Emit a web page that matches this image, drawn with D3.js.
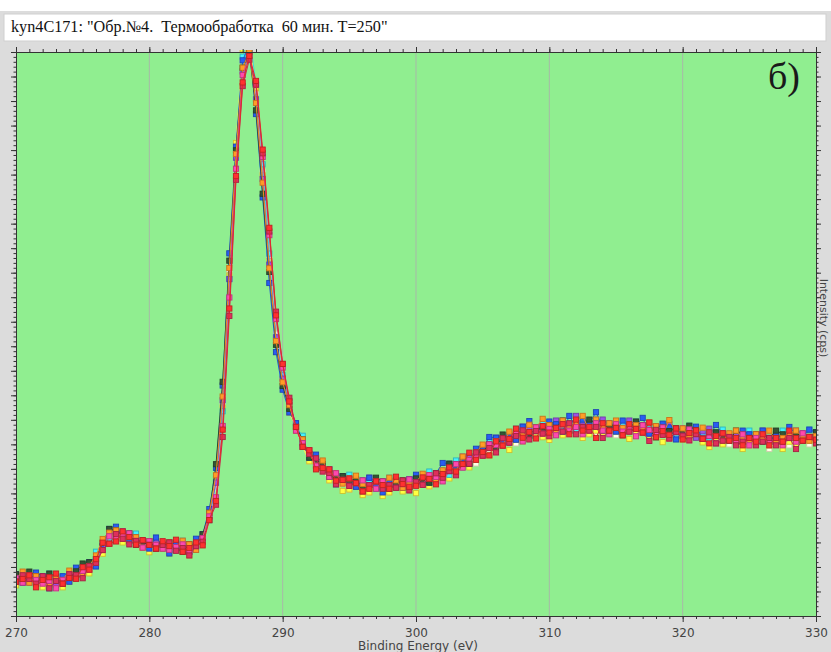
<!DOCTYPE html>
<html><head><meta charset="utf-8">
<script src="https://cdn.jsdelivr.net/npm/d3@7"></script>
<style>
html,body{margin:0;padding:0;background:#dcdcdc;overflow:hidden}
svg{display:block}
</style></head>
<body>
<script>
// Binding energy grid (eV), 0.5 eV step
const energies = d3.range(270, 330.001, 0.5);
// Mean spectrum (kcps)
const baseSpectrum = [
18.55,18.51,18.51,18.47,18.47,18.43,18.43,18.47,18.55,18.67,
18.84,19.04,19.32,19.69,20.10,20.34,20.30,20.22,20.06,19.94,
19.90,19.90,19.90,19.85,19.81,19.77,19.77,19.85,20.18,20.91,
22.14,25.20,30.29,35.39,39.06,39.84,38.37,35.27,31.93,28.66,
26.83,25.60,24.71,24.05,23.61,23.28,23.04,22.83,22.67,22.55,
22.46,22.42,22.38,22.34,22.34,22.34,22.34,22.38,22.38,22.42,
22.46,22.50,22.59,22.67,22.79,22.91,23.04,23.20,23.36,23.52,
23.69,23.85,23.97,24.10,24.22,24.34,24.42,24.50,24.54,24.59,
24.63,24.67,24.67,24.71,24.71,24.71,24.71,24.71,24.71,24.71,
24.67,24.67,24.67,24.63,24.63,24.59,24.59,24.54,24.54,24.50,
24.50,24.46,24.42,24.38,24.34,24.34,24.30,24.30,24.26,24.26,
24.26,24.26,24.26,24.26,24.26,24.26,24.26,24.26,24.30,24.30,
24.34];
// Per-scan deviations from the mean (units of 0.15 kcps), estimated from the scatter
const devUnit = 0.15;
const scanCream = [
0,-1,1,0,-1,0,-2,1,0,-1, 0,-1,1,0,-1,0,1,-1,0,1, -1,0,1,-1,0,1,0,-1,0,1,
1,3,5,6,4,3,0,-1,-2,-1, -1,-2,0,-1,-2,0,-1,-2,0,-1, -2,-1,0,-2,-1,0,-2,-1,0,-1,
-1,0,-2,-1,0,-1,-2,0,-1,-2, 0,-1,-2,0,-1,-2,-1,0,-2,-1, -3,0,-1,-2,0,-3,-1,-2,0,-1,
-2,-1,0,-2,-1,-3,0,-1,-2,-1, 0,-2,-1,0,-3,-1,0,-2,-1,0, -2,-1,0,-3,-1,0,-2,-1,0,-2, -1];
const scanYellow = [
-2,-1,0,-1,-2,0,-1,-2,-1,0, -1,-2,0,-1,1,0,-2,-1,0,-1, -2,0,-1,-2,0,-1,-2,0,-1,1,
3,2,4,6,7,5,1,-2,-3,-2, -1,-2,0,-1,-2,-1,0,-2,-1,-3, -2,-1,-3,-2,-1,-3,-2,0,-2,-1,
-3,-1,-2,0,-1,-2,-1,0,-2,-1, -1,-2,0,-1,-3,-1,-2,0,-1,-2, -3,-1,-2,0,-1,-3,-2,-1,-2,0,
-1,-2,-3,-1,0,-2,-1,-3,-2,-1, -2,0,-1,-2,-3,-1,-2,0,-1,-3, -2,-1,0,-2,-1,-3,-1,-2,0,-1, -2];
const scanCyan = [
0,1,0,-1,1,2,0,1,0,-1, 1,0,2,1,0,-1,1,0,2,1, 0,1,-1,0,1,2,0,-1,1,0,
2,1,3,4,5,6,2,1,-1,-2, 0,1,0,2,-1,1,0,1,-1,0, 2,1,0,1,-1,0,2,1,0,-1,
1,0,2,0,1,-1,2,0,1,0, 1,2,0,1,0,2,1,-1,0,2, 1,0,2,1,-1,0,1,2,0,1,
0,1,-1,2,0,1,0,2,1,-1, 0,2,1,0,-1,1,2,0,1,0, 2,1,0,-1,1,2,0,1,0,2, 1];
const scanPurple = [
1,0,-1,1,0,1,-1,0,1,0, 0,1,0,1,2,0,1,0,-1,0, 0,1,0,-1,1,0,1,-1,0,1,
2,4,3,2,1,2,-2,-3,-4,-2, -1,0,1,-1,0,1,0,1,-1,1, 0,1,0,2,1,-1,0,1,0,1,
1,0,1,-1,0,1,0,2,1,0, 1,0,2,1,-1,0,2,1,0,1, 0,2,1,0,3,1,0,1,2,0,
1,0,2,1,0,-1,1,0,2,1, 1,0,-1,1,2,0,1,0,1,-1, 0,1,2,0,1,-1,0,2,1,0, 1];
const scanBlue = [
1,-1,0,2,1,-2,0,1,-1,2, 0,1,-2,1,3,2,0,-1,1,0, -1,2,0,-2,1,0,-1,2,1,3,
6,8,10,5,4,3,-6,-8,-9,-6, -4,-2,1,0,-1,2,1,0,-2,1, 0,-1,1,2,0,-2,1,0,-1,1,
2,0,-1,1,3,2,0,1,-1,2, 1,3,2,0,1,-1,2,3,1,0, 2,1,-1,3,0,2,1,4,0,1,
-1,2,0,1,3,-1,0,2,1,-2, 0,1,2,-1,0,3,1,0,-1,2, 1,0,2,-1,1,0,3,1,0,2, 1];
const scanDark = [
1,0,2,1,0,2,1,-1,0,1, 2,1,0,2,3,1,0,1,-1,0, 1,-1,0,1,0,-1,1,0,1,2,
7,9,8,4,2,1,-5,-7,-6,-4, -3,-1,0,1,-1,0,1,-1,0,1, 0,1,-1,0,2,1,-1,0,1,-1,
1,0,-1,1,0,2,1,0,-1,1, 0,1,-1,2,0,1,0,-1,1,0, 1,0,2,-1,1,0,2,1,-1,0,
1,-1,0,2,1,0,-2,1,0,1, 0,2,1,-1,0,1,0,-1,2,1, 0,1,-1,0,2,1,0,1,-1,0, 1];
const scanOrange = [
0,2,-1,1,0,-1,1,0,2,0, -1,0,1,3,2,1,-1,0,1,-1, 1,0,-1,1,0,2,1,-1,0,2,
4,5,6,3,2,1,-3,-4,-5,-3, -2,0,-1,1,0,-1,2,0,1,-1, 1,2,0,-1,1,0,2,1,-1,0,
0,2,1,-1,1,0,-1,2,0,1, 2,0,1,-1,2,1,0,2,1,3, 1,-1,2,0,1,3,-1,2,0,1,
2,0,-1,1,0,2,1,-1,3,0, 1,-1,0,2,1,0,-1,1,2,0, -1,1,0,2,-1,0,1,2,0,-1, 0];
const scanMagenta = [
0,-1,1,0,-1,0,-2,0,1,-1, 0,-1,-1,0,1,-1,0,1,0,-1, 1,0,-1,-1,0,1,-1,0,0,1,
-2,-3,-2,-1,0,0,2,3,4,3, 2,1,-1,0,1,-1,0,-1,1,0, -1,0,1,0,-1,1,0,-1,0,1,
0,-1,1,0,-2,0,1,-1,0,0, -1,1,0,-1,0,1,-2,0,1,-1, 0,-2,1,-1,0,-2,0,1,-1,-2,
1,-1,0,-2,1,0,-1,1,-2,0, -1,1,0,-1,0,-2,1,0,-1,1, -2,0,1,-1,0,-2,0,-1,1,0, -1];
const scanCrimson = [
-1,1,0,-1,1,-2,0,-1,1,0, -2,0,-1,0,-1,0,-1,-2,0,1, 0,-1,0,1,-1,0,-2,0,-1,0,
-4,-6,-7,-4,-3,-1,2,4,5,5, 3,2,0,-1,0,1,-1,0,-2,0, -1,0,-2,0,1,-1,0,-1,1,-2,
0,-1,0,1,-1,0,-2,0,-1,1, -1,0,-2,1,-1,0,1,-2,0,-1, -2,0,-1,1,-2,0,-1,0,-3,-1,
0,-2,-1,0,-1,-3,0,-1,-2,0, -1,-2,0,-1,1,-2,-1,0,-2,-1, 0,-2,-1,0,-2,-1,0,-3,-1,0, -2];
const scanRed = [
-1,0,1,-2,0,1,2,-1,0,-1, 1,-1,0,2,-1,-2,1,0,-1,1, 0,-1,1,0,2,-1,0,1,-2,0,
-3,-4,-5,-3,-2,0,3,5,6,4, 3,1,0,-1,1,-2,0,1,-1,0, 1,0,-2,-1,1,0,-1,2,0,-1,
-1,1,0,-2,0,1,-1,0,2,-1, 0,-2,1,-1,0,2,-1,0,-2,1, -1,0,1,-2,2,-1,0,-3,1,-1,
0,-2,1,0,-1,2,-2,0,-1,1, -2,0,1,-1,-2,0,1,-1,0,-2, 0,-1,1,-2,0,-1,2,0,-1,0, -1];
const scanNames = ["cream","yellow","cyan","purple","blue","dark","orange","magenta","crimson","red"];
const scanDevs = [scanCream, scanYellow, scanCyan, scanPurple, scanBlue, scanDark, scanOrange, scanMagenta, scanCrimson, scanRed];
const scanColors = ["#f6f2cc","#f2e63a","#3ad6e0","#8a48c8","#2452d6","#2e4a2e","#f08a22","#e0409a","#c42a50","#e22a2a"];
const xTickLabels = [270,280,290,300,310,320,330];
const titleText = 'kyn4C171: "Обр.№4.  Термообработка  60 мин. T=250"';

const W = 831, H = 652;
const L = 16, R = 816, T = 52, B = 616;

const svg = d3.select("body").append("svg").attr("width", W).attr("height", H);
svg.append("rect").attr("width", W).attr("height", H).attr("fill", "#dcdcdc");
svg.append("rect").attr("width", W).attr("height", 11).attr("fill", "#ffffff");
svg.append("rect").attr("x", 4).attr("y", 14).attr("width", 822).attr("height", 27)
  .attr("fill", "#ffffff").attr("stroke", "#cfcfcf");
svg.append("text").attr("x", 11).attr("y", 32).attr("font-family", "Liberation Serif, serif")
  .attr("font-size", 16.2).attr("fill", "#111").style("white-space", "pre").text(titleText);

const x = d3.scaleLinear().domain([270, 330]).range([L, R]);
const y = d3.scaleLinear().domain([17, 40]).range([B, T]);

svg.append("rect").attr("x", L).attr("y", T).attr("width", R - L).attr("height", B - T).attr("fill", "#90ee90");
svg.append("g").selectAll("line").data([280, 290, 300, 310, 320]).join("line")
  .attr("x1", d => x(d)).attr("x2", d => x(d)).attr("y1", T).attr("y2", B)
  .attr("stroke", "#a8b8a8").attr("stroke-width", 1);

svg.append("defs").append("clipPath").attr("id", "clip").append("rect")
  .attr("x", L).attr("y", T - 2).attr("width", R - L).attr("height", B - T + 2);
const plot = svg.append("g").attr("clip-path", "url(#clip)");

const line = d3.line().x(d => x(d[0])).y(d => y(d[1]));
scanDevs.forEach((dev, k) => {
  const pts = energies.map((e, i) => [e, baseSpectrum[i] + dev[i] * devUnit]);
  const c = scanColors[k];
  const g = plot.append("g").attr("class", "scan-" + scanNames[k]);
  g.append("path").datum(pts).attr("d", line).attr("fill", "none").attr("stroke", c).attr("stroke-width", 1);
  g.selectAll("rect").data(pts).join("rect")
    .attr("x", d => x(d[0]) - 2.6).attr("y", d => y(d[1]) - 2.6).attr("width", 5.2).attr("height", 5.2)
    .attr("fill", d3.color(c).brighter(0.35)).attr("stroke", d3.color(c).darker(0.5)).attr("stroke-width", 0.9);
});

const axC = "#333";
const xBottom = d3.axisBottom(x).tickValues(xTickLabels).tickSize(6).tickFormat(d => d);
const gxb = svg.append("g").attr("transform", `translate(0,${B})`).call(xBottom);
gxb.select(".domain").attr("stroke", axC);
gxb.selectAll(".tick line").attr("stroke", axC);
gxb.selectAll("text").attr("font-family", "DejaVu Sans, sans-serif").attr("font-size", 12).attr("fill", "#444").attr("dy", "1.0em");
svg.append("g").attr("transform", `translate(0,${B})`)
  .call(d3.axisBottom(x).tickValues(d3.range(270, 331, 1)).tickSize(3).tickFormat(""))
  .call(g => g.select(".domain").remove()).selectAll("line").attr("stroke", axC);

const gxt = svg.append("g").attr("transform", `translate(0,${T})`)
  .call(d3.axisTop(x).tickValues(xTickLabels).tickSize(5).tickFormat(""));
gxt.select(".domain").attr("stroke", axC); gxt.selectAll("line").attr("stroke", axC);
svg.append("g").attr("transform", `translate(0,${T})`)
  .call(d3.axisTop(x).tickValues(d3.range(270, 331, 1)).tickSize(3).tickFormat(""))
  .call(g => g.select(".domain").remove()).selectAll("line").attr("stroke", axC);

const yMajor = d3.range(17, 40.001, 1), yMinor = d3.range(17, 40.001, 0.2);
[[L, d3.axisLeft], [R, d3.axisRight]].forEach(([px, ax]) => {
  const g1 = svg.append("g").attr("transform", `translate(${px},0)`)
    .call(ax(y).tickValues(yMajor).tickSize(5).tickFormat(""));
  g1.select(".domain").attr("stroke", axC); g1.selectAll("line").attr("stroke", axC);
  svg.append("g").attr("transform", `translate(${px},0)`)
    .call(ax(y).tickValues(yMinor).tickSize(2.5).tickFormat(""))
    .call(g => g.select(".domain").remove()).selectAll("line").attr("stroke", axC);
});

svg.append("text").attr("x", (L + R) / 2 + 2).attr("y", 650).attr("text-anchor", "middle")
  .attr("font-family", "DejaVu Sans, sans-serif").attr("font-size", 12).attr("fill", "#444")
  .text("Binding Energy (eV)");
svg.append("text").attr("transform", "translate(820,318) rotate(90)").attr("text-anchor", "middle")
  .attr("font-family", "DejaVu Sans, sans-serif").attr("font-size", 11).attr("fill", "#444")
  .text("Intensity (cps)");

svg.append("text").attr("x", 768).attr("y", 89).attr("font-family", "Liberation Serif, serif")
  .attr("font-size", 38).attr("fill", "#1a1a1a").text("б)");
</script>
</body></html>
